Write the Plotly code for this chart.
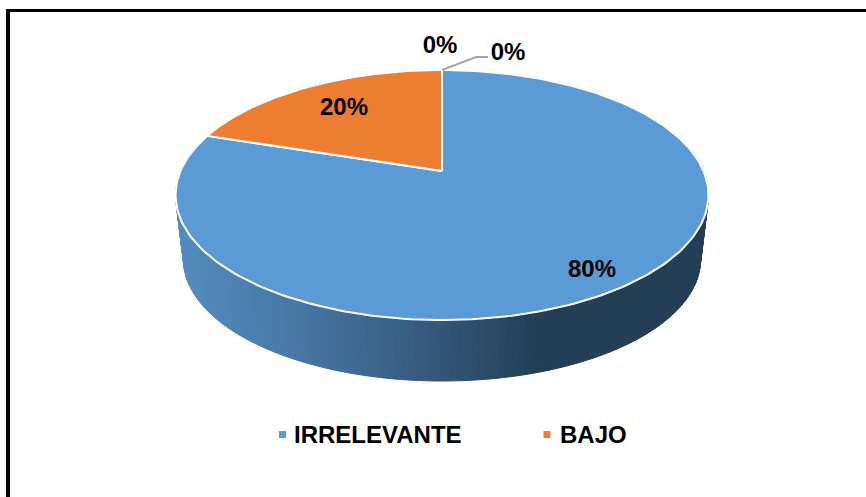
import numpy as np
import plotly.graph_objects as go

categories = ["IRRELEVANTE", "BAJO", "MEDIO", "ALTO"]
values = [80, 20, 0, 0]
slice_colors = ["#5B9BD5", "#ED7D31", "#A5A5A5", "#FFC000"]
legend_categories = ["IRRELEVANTE", "BAJO"]

W, H = 866, 497
FONT = "Liberation Sans"

# Projection of the tilted disc (perspective: back smaller than front)
CX, APEX_Y, R, S, K = 442.0, 171.0, 261.5, 120.4, 0.192
DROP_Y, SCALE = 65.5, 0.97


def project(a, level=0):
    u, v = np.sin(a), np.cos(a)
    w = 1 + K * v
    sc = SCALE if level else 1.0
    return CX + sc * R * u / w, APEX_Y + (DROP_Y if level else 0) - sc * S * v / w


def side_color(x):
    xs = [176, 280, 360, 440, 540, 710]
    rs = [0x55, 0x4A, 0x3E, 0x33, 0x23, 0x23]
    gs = [0x8C, 0x7B, 0x69, 0x57, 0x3E, 0x3E]
    bs = [0xBF, 0xA9, 0x91, 0x79, 0x55, 0x55]
    return "rgb(%d,%d,%d)" % (np.interp(x, xs, rs), np.interp(x, xs, gs), np.interp(x, xs, bs))


fig = go.Figure()

# Side wall of the pie, strip by strip
edges = np.radians(np.linspace(85, 275, 151))
for a0, a1 in zip(edges[:-1], edges[1:]):
    seg = np.linspace(a0, a1, 3)
    tx, ty = project(seg)
    bx, by = project(seg, 1)
    xs = np.r_[tx, bx[::-1], tx[0]]
    ys = np.r_[ty, by[::-1], ty[0]]
    col = side_color(xs.mean())
    fig.add_trace(go.Scatter(x=xs, y=ys, mode="lines", fill="toself", fillcolor=col,
                             line=dict(color=col, width=1), hoverinfo="skip", showlegend=False))

# Top face
total = sum(values)
start = 0.0
angles = {}
for cat, val, col in zip(categories, values, slice_colors):
    sweep = 2 * np.pi * val / total
    angles[cat] = (start, start + sweep)
    if val > 0:
        seg = np.linspace(start, start + sweep, 240)
        px, py = project(seg)
        xs = np.r_[CX, px, CX]
        ys = np.r_[APEX_Y, py, APEX_Y]
        fig.add_trace(go.Scatter(x=xs, y=ys, mode="lines", fill="toself", fillcolor=col,
                                 line=dict(color="white", width=2), name=cat,
                                 hoverinfo="name", showlegend=False))
    start += sweep

# Leader line of the last zero slice
lx, ly = project(angles["ALTO"][0])
fig.add_trace(go.Scatter(x=[float(lx), 476, 488], y=[float(ly), 57, 57], mode="lines",
                         line=dict(color="#A6A6A6", width=2), hoverinfo="skip", showlegend=False))

# Data labels
label_x = [592, 344, 440, 508]
label_y = [271, 109, 47, 54]
fig.add_trace(go.Scatter(x=label_x, y=label_y, mode="text",
                         text=[f"{v}%" for v in values], textposition="middle center",
                         textfont=dict(family=FONT, size=24, color="black", weight=700),
                         hoverinfo="skip", showlegend=False))

# Legend row
legend_x = [282.5, 547]
legend_text_x = [294, 560]
legend_y = 434.5
legend_text_y = 436.5
for cat, x, tx in zip(legend_categories, legend_x, legend_text_x):
    col = slice_colors[categories.index(cat)]
    fig.add_trace(go.Scatter(x=[x], y=[legend_y], mode="markers",
                             marker=dict(symbol="square", size=7, color=col),
                             hoverinfo="skip", showlegend=False))
    fig.add_trace(go.Scatter(x=[tx], y=[legend_text_y], mode="text", text=[cat],
                             textposition="middle right",
                             textfont=dict(family=FONT, size=24, color="black", weight=700),
                             hoverinfo="skip", showlegend=False))

fig.update_layout(
    width=W, height=H, margin=dict(l=0, r=0, t=0, b=0),
    paper_bgcolor="white", plot_bgcolor="white", showlegend=False,
    xaxis=dict(range=[0, W], visible=False, fixedrange=True),
    yaxis=dict(range=[H, 0], visible=False, fixedrange=True),
    shapes=[
        dict(type="line", x0=8, x1=8, y0=9, y1=H, line=dict(color="black", width=4), layer="above"),
        dict(type="line", x0=6, x1=W, y0=10.5, y1=10.5, line=dict(color="black", width=3), layer="above"),
    ],
)
fig.write_html("out.html", config={"displayModeBar": False},
               post_script="document.body.style.margin='0';document.documentElement.style.overflow='hidden';")
